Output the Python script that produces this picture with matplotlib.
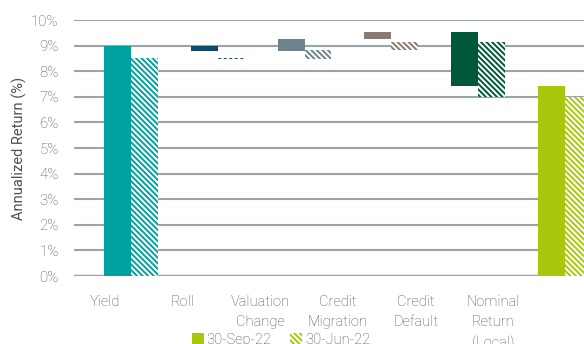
import matplotlib
matplotlib.use('Agg')
import matplotlib.pyplot as plt
from matplotlib.patches import Patch
import numpy as np

# Return attribution, in percent
categories = ['Yield', 'Roll', 'Valuation\nChange', 'Credit\nMigration',
              'Credit\nDefault', 'Nominal\nReturn\n(Local)']
sep22 = [8.98, -0.21, 0.49, 0.28, -2.12, 7.42]
jun22 = [8.50, -0.03, 0.34, 0.32, -2.12, 7.01]
colors = ['#00A19F', '#0E4A6B', '#6D838C', '#887A72', '#00573A', '#AAC70E']
series_names = ['30-Sep-22', '30-Jun-22']
ytick_vals = np.arange(0, 11, 1)


def waterfall_bases(values):
    """Bottom / height pairs: first and last bars start at zero, the rest float."""
    bottoms, heights = [], []
    running = 0.0
    for i, v in enumerate(values):
        if i == 0 or i == len(values) - 1:
            bottoms.append(0.0)
            heights.append(v)
            running = v
        else:
            bottoms.append(running)
            heights.append(v)
            running += v
    return bottoms, heights


plt.rcParams['font.family'] = ['Roboto', 'DejaVu Sans']
plt.rcParams['font.weight'] = 'light'
plt.rcParams['hatch.linewidth'] = 1.4

text_color = '#505050'
grid_color = '#98A4A7'
HATCH = '\\' * 6

fig = plt.figure(figsize=(5.84, 3.44), dpi=100)
ax = fig.add_axes([74 / 584, 1 - 276 / 344, 1 - 74 / 584, 256 / 344])

x = np.arange(len(categories))
width = 0.31

b1, h1 = waterfall_bases(sep22)
b2, h2 = waterfall_bases(jun22)

ax.bar(x - width / 2, h1, width, bottom=b1, color=colors, linewidth=0, zorder=3)
for xi, h, b, c in zip(x + width / 2, h2, b2, colors):
    ax.bar(xi, h, width, bottom=b, facecolor='white', edgecolor=c,
           hatch=HATCH, linewidth=0, zorder=3)

ax.set_ylim(0, 10)
ax.set_xlim(-0.657, 5.22)
ax.set_yticks(ytick_vals)
ax.set_yticklabels([f'{v}%' for v in ytick_vals])
ax.yaxis.grid(True, color=grid_color, linewidth=1.5, zorder=0)
ax.axhline(0, color=grid_color, linewidth=2.4, zorder=1)

# category labels sit slightly left of each bar pair
label_pos = x * 0.895 - 0.30
ax.set_xticks(label_pos)
ax.set_xticklabels(categories, linespacing=1.55)
ax.tick_params(axis='x', length=0, pad=14, labelsize=10.5, colors=text_color)
ax.tick_params(axis='y', length=0, pad=11, labelsize=10.8, colors=text_color)

for side in ['top', 'right', 'left', 'bottom']:
    ax.spines[side].set_visible(False)

ax.set_ylabel('Annualized Return (%)', fontsize=10.5, color=text_color, labelpad=3)

handles = [
    Patch(facecolor=colors[-1], edgecolor=colors[-1], linewidth=0),
    Patch(facecolor='white', edgecolor=colors[-1], hatch=HATCH, linewidth=0),
]
leg = fig.legend(handles, series_names, loc='center left',
                 bbox_to_anchor=(192 / 584, 1 - 340 / 344), ncol=2, frameon=False,
                 fontsize=10.5, handlelength=0.8, handleheight=0.8,
                 handletextpad=0.2, columnspacing=1.3, borderpad=0, borderaxespad=0)
for t in leg.get_texts():
    t.set_color(text_color)

plt.savefig('out.png', dpi=100)
